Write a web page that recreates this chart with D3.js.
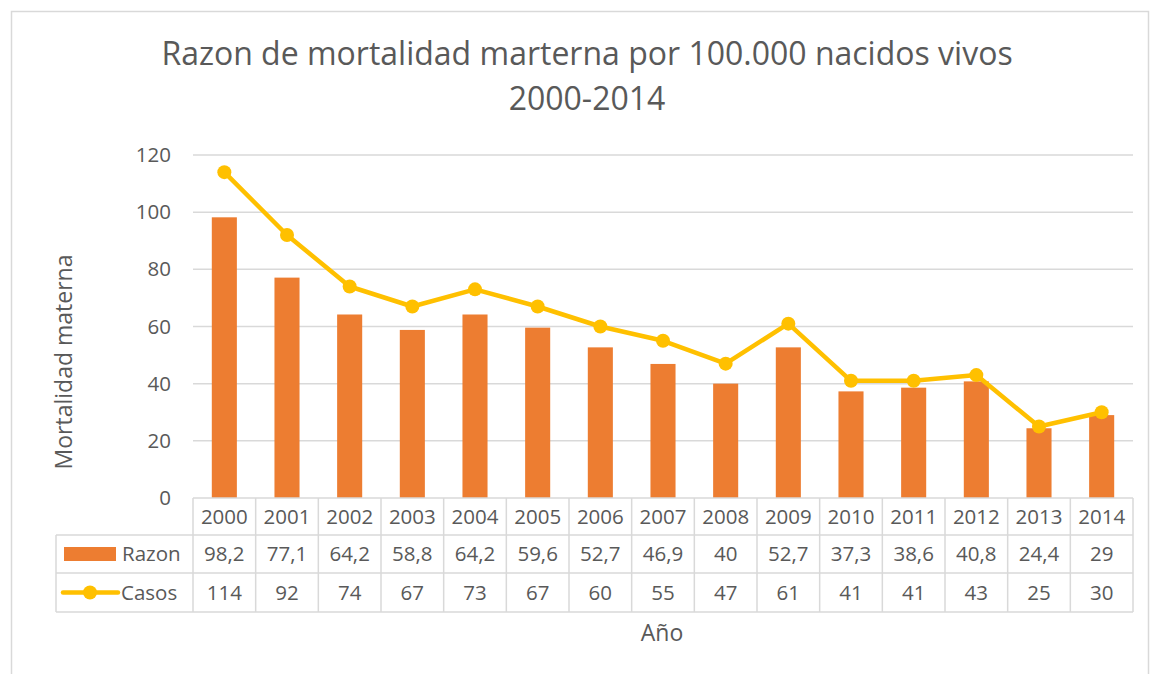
<!DOCTYPE html>
<html>
<head>
<meta charset="utf-8">
<script src="https://cdn.jsdelivr.net/npm/d3@7"></script>
<style>
  body { margin: 0; background: #fff; }
  svg { display: block; font-family: "Open Sans", sans-serif; }
</style>
</head>
<body>
<svg width="1151" height="674"></svg>
<script>
// chart data
const years = ["2000","2001","2002","2003","2004","2005","2006","2007","2008","2009","2010","2011","2012","2013","2014"]
const razon = [98.2, 77.1, 64.2, 58.8, 64.2, 59.6, 52.7, 46.9, 40, 52.7, 37.3, 38.6, 40.8, 24.4, 29]
const casos = [114, 92, 74, 67, 73, 67, 60, 55, 47, 61, 41, 41, 43, 25, 30]
const yTicks = [0, 20, 40, 60, 80, 100, 120]

const svg = d3.select("svg")
const textColor = "#595959"
const gridColor = "#d9d9d9"
const orange = "#ED7D31"
const yellow = "#FFC000"
const fs = 20.5
const titleFs = 23

const esLocale = d3.formatLocale({ decimal: ",", thousands: ".", grouping: [3], currency: ["", "€"] })
const fmt = esLocale.format("~g")

const plot = { left: 193, right: 1133, top: 155, bottom: 498 }
const rowY = [498, 535, 573, 612]
const legendLeft = 56

const x = d3.scaleBand().domain(years).range([plot.left, plot.right]).paddingInner(0).paddingOuter(0)
const y = d3.scaleLinear().domain([0, 120]).range([plot.bottom, plot.top])
const barW = x.bandwidth() / 2.5

// chart border
svg.append("rect")
  .attr("x", 11.5).attr("y", 11.5)
  .attr("width", 1137).attr("height", 680)
  .attr("fill", "none").attr("stroke", gridColor).attr("stroke-width", 1.5)

// title
const title = svg.append("text")
  .attr("text-anchor", "middle")
  .attr("fill", textColor)
  .style("font-size", "32px")
title.append("tspan").attr("x", 587).attr("y", 65).text("Razon de mortalidad marterna por 100.000 nacidos vivos")
title.append("tspan").attr("x", 587).attr("y", 110).text("2000-2014")

// gridlines
svg.append("g").selectAll("line")
  .data(yTicks.filter(d => d > 0))
  .enter().append("line")
  .attr("x1", plot.left).attr("x2", plot.right)
  .attr("y1", d => y(d)).attr("y2", d => y(d))
  .attr("stroke", gridColor).attr("stroke-width", 1.5)

// y axis labels
const yAxis = svg.append("g")
  .attr("transform", "translate(" + (plot.left - 14) + ",0)")
  .call(d3.axisLeft(y).tickValues(yTicks).tickSize(0).tickPadding(8))
yAxis.select(".domain").remove()
yAxis.selectAll("text")
  .attr("fill", textColor)
  .style("font-size", fs + "px")
  .style("font-family", "Open Sans, sans-serif")

// y axis title
svg.append("text")
  .attr("transform", "translate(72,362) rotate(-90)")
  .attr("text-anchor", "middle")
  .attr("fill", textColor)
  .style("font-size", titleFs + "px")
  .text("Mortalidad materna")

// bars
svg.append("g").selectAll("rect")
  .data(razon)
  .enter().append("rect")
  .attr("x", (d, i) => x(years[i]) + (x.bandwidth() - barW) / 2)
  .attr("y", d => y(d))
  .attr("width", barW)
  .attr("height", d => y(0) - y(d))
  .attr("fill", orange)

// line + markers
const line = d3.line()
  .x((d, i) => x(years[i]) + x.bandwidth() / 2)
  .y(d => y(d))
svg.append("path")
  .datum(casos)
  .attr("d", line)
  .attr("fill", "none")
  .attr("stroke", yellow)
  .attr("stroke-width", 4.5)
  .attr("stroke-linejoin", "round")
svg.append("g").selectAll("circle")
  .data(casos)
  .enter().append("circle")
  .attr("cx", (d, i) => x(years[i]) + x.bandwidth() / 2)
  .attr("cy", d => y(d))
  .attr("r", 7)
  .attr("fill", yellow)

// data table grid
const table = svg.append("g").attr("stroke", gridColor).attr("stroke-width", 1.5)
table.append("line").attr("x1", plot.left).attr("x2", plot.right).attr("y1", rowY[0]).attr("y2", rowY[0])
rowY.slice(1).forEach(ry => {
  table.append("line").attr("x1", legendLeft).attr("x2", plot.right).attr("y1", ry).attr("y2", ry)
})
table.append("line").attr("x1", legendLeft).attr("x2", legendLeft).attr("y1", rowY[1]).attr("y2", rowY[3])
years.concat(["end"]).forEach((yr, i) => {
  const xx = i < years.length ? x(yr) : plot.right
  table.append("line").attr("x1", xx).attr("x2", xx).attr("y1", rowY[0]).attr("y2", rowY[3])
})

// table text
const rows = [years, razon.map(fmt), casos.map(String)]
rows.forEach((vals, r) => {
  svg.append("g").selectAll("text")
    .data(vals)
    .enter().append("text")
    .attr("x", (d, i) => x(years[i]) + x.bandwidth() / 2)
    .attr("y", (rowY[r] + rowY[r + 1]) / 2)
    .attr("dy", "0.35em")
    .attr("text-anchor", "middle")
    .attr("fill", textColor)
    .style("font-size", fs + "px")
    .text(d => d)
})

// legend keys in table
const razonMid = (rowY[1] + rowY[2]) / 2
const casosMid = (rowY[2] + rowY[3]) / 2
svg.append("rect")
  .attr("x", 64).attr("y", razonMid - 7)
  .attr("width", 52).attr("height", 14)
  .attr("fill", orange)
svg.append("text")
  .attr("x", 122).attr("y", razonMid).attr("dy", "0.35em")
  .attr("fill", textColor).style("font-size", fs + "px")
  .text("Razon")
svg.append("line")
  .attr("x1", 63).attr("x2", 118)
  .attr("y1", casosMid).attr("y2", casosMid)
  .attr("stroke", yellow).attr("stroke-width", 4.5).attr("stroke-linecap", "round")
svg.append("circle")
  .attr("cx", 90).attr("cy", casosMid).attr("r", 7).attr("fill", yellow)
svg.append("text")
  .attr("x", 121).attr("y", casosMid).attr("dy", "0.35em")
  .attr("fill", textColor).style("font-size", fs + "px")
  .text("Casos")

// x axis title
svg.append("text")
  .attr("x", 662).attr("y", 641)
  .attr("text-anchor", "middle")
  .attr("fill", textColor)
  .style("font-size", titleFs + "px")
  .text("Año")
</script>
</body>
</html>
